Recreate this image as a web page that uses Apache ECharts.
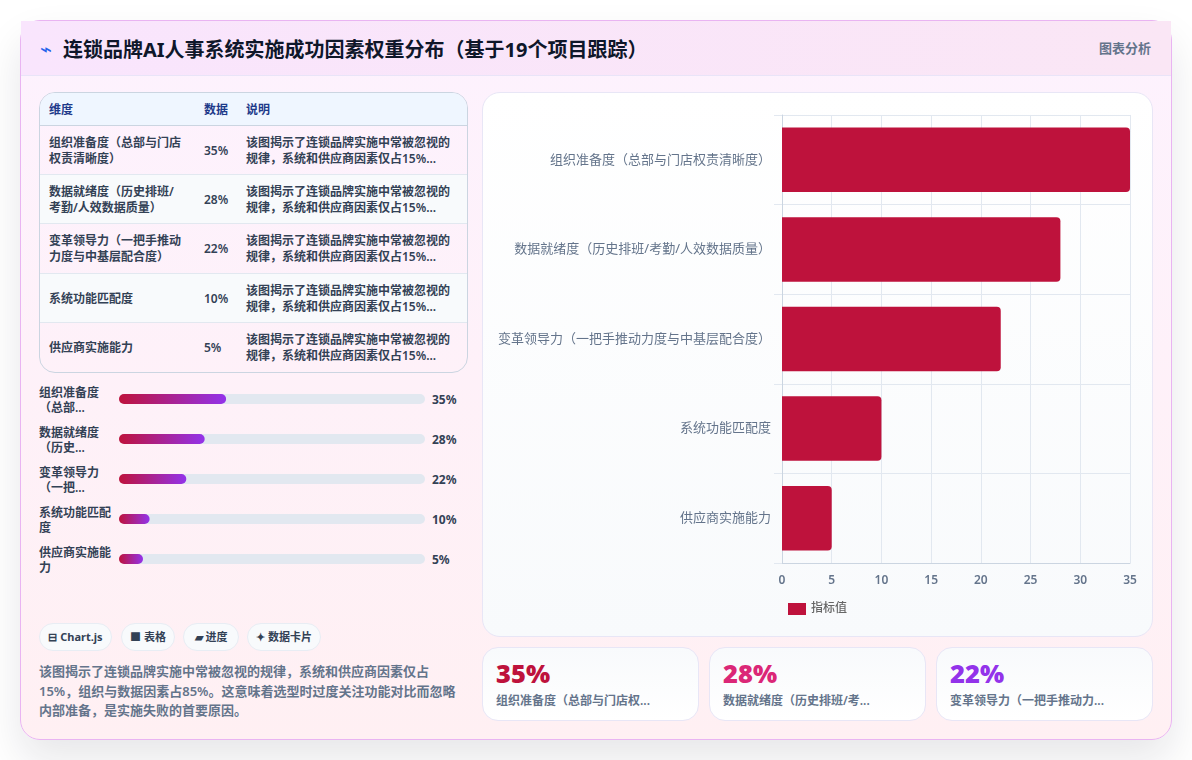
<!DOCTYPE html>
<html lang="zh-CN">
<head>
<meta charset="utf-8">
<title>连锁品牌AI人事系统实施成功因素权重分布</title>
<script src="https://cdn.jsdelivr.net/npm/echarts@6/dist/echarts.min.js"></script>
<style>
  * { box-sizing: border-box; margin: 0; padding: 0; }
  html, body { width: 1192px; height: 760px; overflow: hidden; background: #fff;
    font-family: "Noto Sans", "Noto Sans CJK SC", sans-serif; }
  .card { position: absolute; left: 20px; top: 20px; width: 1152px; height: 720px;
    border: 1px solid #e9b4f2; border-radius: 20px;
    background: linear-gradient(180deg, #fdf2fe 0%, #fff0f3 100%);
    box-shadow: 0 20px 40px rgba(15, 23, 42, .10); }
  .head { position: absolute; left: 0; top: 0; width: 1150px; height: 55px;
    background: linear-gradient(90deg, #f9e5fd 0%, #fae6f5 100%);
    border-bottom: 1px solid #e9e4f8; }
  .abs { position: absolute; white-space: nowrap; }
  .title { left: 42px; top: 15px; font-size: 20px; line-height: 28px; font-weight: 700; color: #0f172a; }
  .bolt { left: 19px; top: 14px; font-size: 20px; line-height: 28px; color: #2563eb; }
  .tag { right: 20px; top: 17px; font-size: 13px; line-height: 20px; font-weight: 600; color: #64748b; }

  .tbl { position: absolute; left: 18px; top: 71px; width: 429px; height: 281px;
    border: 1px solid #cbd5e1; border-radius: 16px; overflow: hidden; }
  .tbl table { width: 100%; border-collapse: collapse; table-layout: fixed; font-size: 12px; line-height: 16px; }
  .tbl th { height: 32px; background: #eff6ff; color: #1e3a8a; font-weight: 600; text-align: left;
    padding: 2px 9px 0; border-bottom: 1px solid #cbd5e1; }
  .tbl td { height: 49px; padding: 2px 9px 0; color: #334155; font-weight: 600; border-bottom: 1px solid #e2e8f0; }
  .tbl tbody tr:nth-child(3) td, .tbl tbody tr:nth-child(5) td { height: 50px; }
  .tbl td:first-child { padding-right: 12px; }
  .tbl tr:last-child td { border-bottom: 0; }
  .tbl tbody tr:nth-child(even) td { background: #f8fafc; }

  .pl { position: absolute; left: 18px; width: 80px; font-size: 12px; line-height: 15px; font-weight: 600; color: #334155; }
  .pv { position: absolute; left: 411px; font-size: 12px; line-height: 16px; font-weight: 700; color: #334155; }
  #bars { position: absolute; left: 98px; top: 358px; width: 306px; height: 200px; }

  .pill { position: absolute; top: 602px; height: 28px; line-height: 26px; text-align: center;
    border: 1px solid #e8edf4; border-radius: 14px; background: #f8fafc;
    font-size: 11px; font-weight: 700; color: #334155; white-space: nowrap; }
  .note { position: absolute; left: 18px; top: 641px; width: 420px; font-size: 13px; line-height: 19.5px;
    font-weight: 600; color: #64748b; }

  .panel { position: absolute; left: 461px; top: 71px; width: 671px; height: 545px;
    border: 1px solid #e8e6f6; border-radius: 18px;
    background: linear-gradient(180deg, #ffffff 0%, #f8fafc 100%); }
  #main { position: absolute; left: 0; top: 0; width: 669px; height: 543px; }

  .stat { position: absolute; top: 626px; width: 217px; height: 74px; border: 1px solid #e8e6f6; border-radius: 16px;
    background: linear-gradient(180deg, #f8fafc 0%, #ffffff 100%); }
  .stat b { position: absolute; left: 13px; top: 8px; font-size: 25.5px; line-height: 34px; font-weight: 900; }
  .stat span { position: absolute; left: 13px; top: 44px; font-size: 12px; line-height: 18px; font-weight: 600;
    color: #64748b; white-space: nowrap; }
</style>
</head>
<body>
<div class="card" id="card">
  <div class="head">
    <div class="abs bolt">⌁</div>
    <div class="abs title" id="title"></div>
    <div class="abs tag">图表分析</div>
  </div>
  <div class="tbl"><table>
    <colgroup><col style="width:155px"><col style="width:42px"><col></colgroup>
    <thead><tr id="thead"></tr></thead>
    <tbody id="tbody"></tbody>
  </table></div>
  <div id="bars"></div>
  <div class="note" id="note"></div>
  <div class="panel"><div id="main"></div></div>
</div>
<script>
  const chartTitle = '连锁品牌AI人事系统实施成功因素权重分布（基于19个项目跟踪）';
  const categories = [
    '组织准备度（总部与门店权责清晰度）',
    '数据就绪度（历史排班/考勤/人效数据质量）',
    '变革领导力（一把手推动力度与中基层配合度）',
    '系统功能匹配度',
    '供应商实施能力'
  ];
  const values = [35, 28, 22, 10, 5];
  const seriesName = '指标值';
  const tableHead = ['维度', '数据', '说明'];
  const noteText = '该图揭示了连锁品牌实施中常被忽视的规律，系统和供应商因素仅占15%，组织与数据因素占85%。这意味着选型时过度关注功能对比而忽略内部准备，是实施失败的首要原因。';
  const pills = [['⊟ Chart.js', 18, 73], ['■ 表格', 100, 54], ['▰ 进度', 162, 56], ['✦ 数据卡片', 226, 74]];
  const statColors = ['#be123c', '#db2777', '#9333ea'];
  const statLefts = [461, 688, 915];

  const cut = (s, n) => s.length > n ? s.slice(0, n) + '...' : s;
  const card = document.getElementById('card');
  document.getElementById('title').textContent = chartTitle;
  document.getElementById('note').textContent = noteText;
  document.getElementById('thead').innerHTML = tableHead.map(h => `<th>${h}</th>`).join('');
  document.getElementById('tbody').innerHTML = categories.map((c, i) =>
    `<tr><td>${c}</td><td>${values[i]}%</td><td>${cut(noteText, 33)}</td></tr>`).join('');

  const add = (cls, css, html) => {
    const el = document.createElement('div');
    el.className = cls; el.style.cssText = css; el.innerHTML = html;
    card.appendChild(el);
  };
  categories.forEach((c, i) => {
    const rowTop = 358 + i * 40;
    add('pl', `top:${rowTop + 6}px`, cut(c, 8));
    add('pv', `top:${rowTop + 13}px`, values[i] + '%');
  });
  pills.forEach(([t, l, w]) => add('pill', `left:${l}px;width:${w}px`, t));
  statColors.forEach((col, i) => add('stat', `left:${statLefts[i]}px`,
    `<b style="color:${col}">${values[i]}%</b><span>${cut(categories[i], 12)}</span>`));

  // Progress strips: one gradient bar per factor on a 0–100 scale
  const bars = echarts.init(document.getElementById('bars'));
  bars.setOption({
    animation: false,
    grid: { left: 0, right: 0, top: 0, bottom: 0 },
    xAxis: { type: 'value', min: 0, max: 100, show: false },
    yAxis: { type: 'category', inverse: true, data: categories, show: false },
    series: [{
      type: 'bar', data: values, barWidth: 10, barMinHeight: 24,
      showBackground: true,
      backgroundStyle: { color: '#e2e8f0', borderRadius: 5 },
      itemStyle: {
        borderRadius: 5,
        color: new echarts.graphic.LinearGradient(0, 0, 1, 0, [
          { offset: 0, color: '#be123c' }, { offset: 1, color: '#9333ea' }
        ])
      }
    }]
  });

  // Main horizontal bar chart
  const main = echarts.init(document.getElementById('main'));
  main.setOption({
    animation: false,
    textStyle: { fontFamily: '"Noto Sans", "Noto Sans CJK SC", sans-serif' },
    legend: {
      left: 300, top: 505, itemWidth: 18, itemHeight: 12, itemGap: 6,
      icon: 'rect', data: [seriesName],
      textStyle: { color: '#666', fontSize: 12, fontWeight: 500 }
    },
    grid: { left: 299, right: 22, top: 22, bottom: 73 },
    xAxis: {
      type: 'value', min: 0, max: 35, interval: 5,
      axisLine: { show: true, lineStyle: { color: '#cbd5e1' } },
      axisTick: { show: false },
      axisLabel: { color: '#64748b', fontSize: 12, fontWeight: 600, margin: 12 },
      splitLine: { show: true, lineStyle: { color: '#e2e8f0' } }
    },
    yAxis: {
      type: 'category', inverse: true, data: categories,
      axisLine: { show: true, lineStyle: { color: '#cbd5e1' } },
      axisTick: { show: true, length: 8, lineStyle: { color: '#e2e8f0' } },
      axisLabel: { color: '#64748b', fontSize: 13, margin: 11 },
      splitLine: { show: true, lineStyle: { color: '#e2e8f0' } }
    },
    series: [{
      name: seriesName, type: 'bar', data: values, barWidth: '72%',
      itemStyle: { color: '#be123c', borderRadius: [0, 4, 4, 0] }
    }]
  });
</script>
</body>
</html>
